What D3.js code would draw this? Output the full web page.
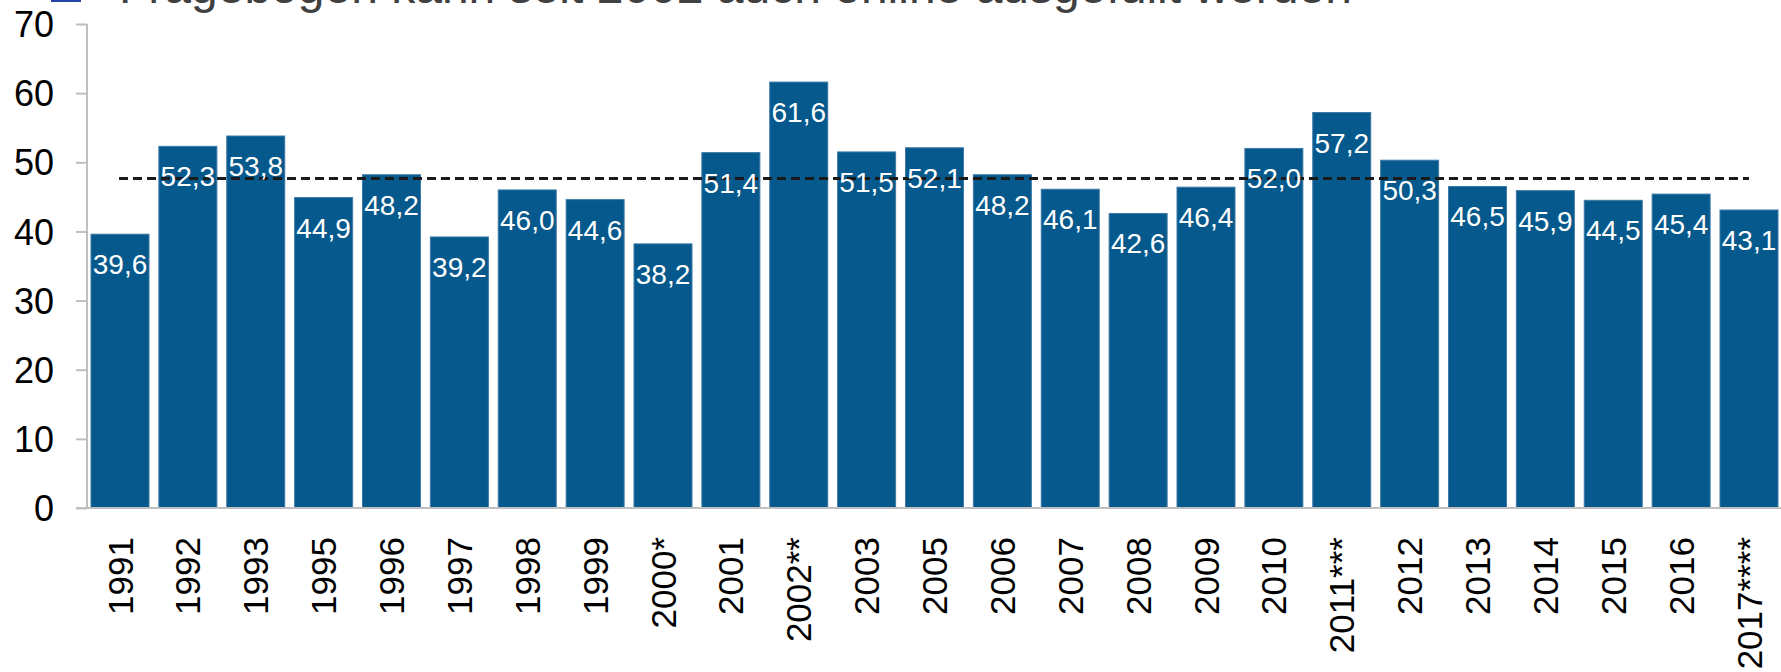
<!DOCTYPE html>
<html>
<head>
<meta charset="utf-8">
<script src="https://cdn.jsdelivr.net/npm/d3@7"></script>
<style>
  html, body { margin: 0; padding: 0; background: #fff; }
  svg { display: block; font-family: "Liberation Sans", Arial, sans-serif; }
</style>
</head>
<body>
<svg id="chart" width="1781" height="672"></svg>
<script>
const categories = ["1991","1992","1993","1995","1996","1997","1998","1999","2000*","2001","2002**","2003","2005","2006","2007","2008","2009","2010","2011***","2012","2013","2014","2015","2016","2017****"];
const values = [39.6,52.3,53.8,44.9,48.2,39.2,46.0,44.6,38.2,51.4,61.6,51.5,52.1,48.2,46.1,42.6,46.4,52.0,57.2,50.3,46.5,45.9,44.5,45.4,43.1];
const yTicks = [0,10,20,30,40,50,60,70];
const titleText = "Fragebogen kann seit 2002 auch online ausgefüllt werden";
const averageValue = d3.mean(values);

const svg = d3.select("#chart");
const W = 1781, H = 672;

const x = d3.scaleBand()
  .domain(categories)
  .range([91, 1778])
  .paddingInner(0.1455)
  .paddingOuter(0);

const y = d3.scaleLinear().domain([0, 70]).range([508, 24]);

// Title (partly cut off at top)
svg.append("rect")
  .attr("x", 52).attr("y", -27).attr("width", 28).attr("height", 28)
  .attr("fill", "#dfe6f5").attr("stroke", "#2343a8").attr("stroke-width", 2);
svg.append("text")
  .attr("x", 119).attr("y", 3)
  .attr("font-size", 48)
  .attr("fill", "#404040")
  .text(titleText);

// Y axis
const yAxis = d3.axisLeft(y).tickValues(yTicks).tickSize(11).tickPadding(22).tickFormat(d3.format("d"));
const gy = svg.append("g").attr("transform", "translate(87,0)").call(yAxis);
gy.select(".domain").attr("stroke", "#bfbfbf").attr("stroke-width", 2).attr("d", "M0,24V508");
gy.selectAll(".tick line").attr("stroke", "#bfbfbf").attr("stroke-width", 2);
gy.selectAll(".tick text")
  .attr("font-size", 36)
  .attr("font-family", "Liberation Sans, Arial, sans-serif")
  .attr("fill", "#000")
  .attr("dy", "0.35em");

// Bars
svg.append("g").selectAll("rect")
  .data(values)
  .join("rect")
  .attr("x", (d, i) => x(categories[i]))
  .attr("y", d => y(d))
  .attr("width", x.bandwidth())
  .attr("height", d => y(0) - y(d))
  .attr("fill", "#05598c")
  .attr("stroke", "#3d7aa6")
  .attr("stroke-width", 1);

// X axis baseline
svg.append("line")
  .attr("x1", 76).attr("x2", W).attr("y1", y(0)).attr("y2", y(0))
  .attr("stroke", "#bfbfbf").attr("stroke-width", 2);

// X labels
const xAxis = d3.axisBottom(x).tickSize(0).tickPadding(0);
const gx = svg.append("g").attr("transform", `translate(0,${y(0)})`).call(xAxis);
gx.select(".domain").remove();
gx.selectAll(".tick text")
  .attr("font-size", 35)
  .attr("font-family", "Liberation Sans, Arial, sans-serif")
  .attr("fill", "#000")
  .attr("text-anchor", "end")
  .attr("transform", "rotate(-90)")
  .attr("x", -29)
  .attr("y", 0)
  .attr("dy", "0.36em");

// Average dashed line
svg.append("line")
  .attr("x1", 119).attr("x2", 1749)
  .attr("y1", y(averageValue)).attr("y2", y(averageValue))
  .attr("stroke", "#1a1a1a").attr("stroke-width", 3)
  .attr("stroke-dasharray", "9,5");

// Value labels
svg.append("g").selectAll("text")
  .data(values)
  .join("text")
  .attr("x", (d, i) => x(categories[i]) + x.bandwidth() / 2)
  .attr("y", d => y(d) + 40)
  .attr("text-anchor", "middle")
  .attr("font-size", 28)
  .attr("fill", "#fff")
  .text(d => d3.format(".1f")(d).replace(".", ","));
</script>
</body>
</html>
